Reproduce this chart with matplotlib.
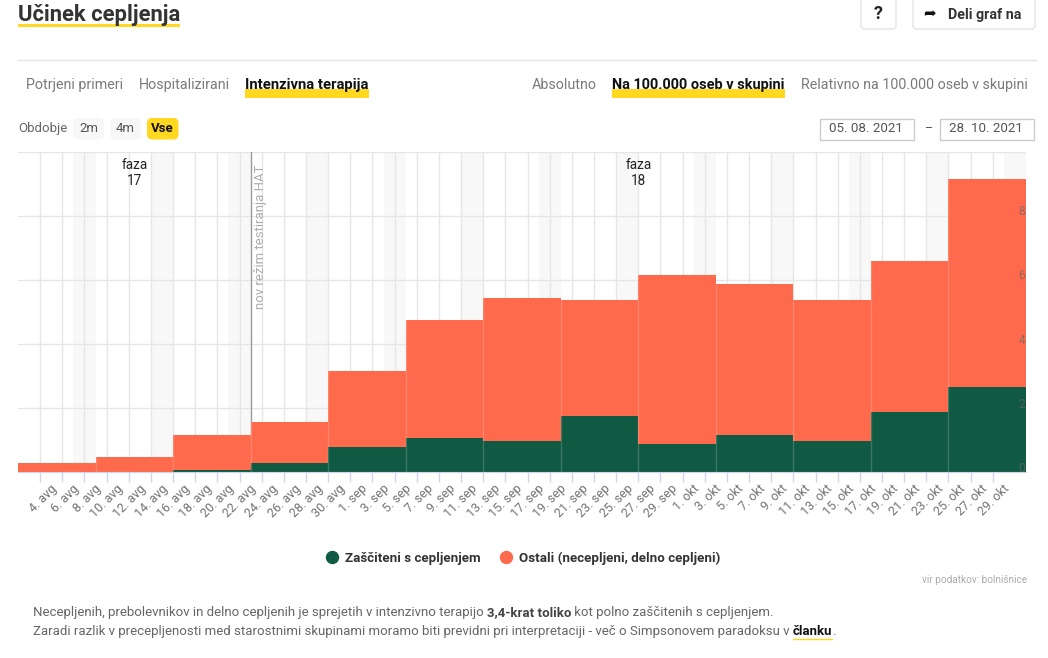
import matplotlib
matplotlib.use('Agg')
import matplotlib.pyplot as plt
import matplotlib.dates as mdates
from matplotlib.lines import Line2D
from matplotlib.patches import FancyBboxPatch, Rectangle
from matplotlib.transforms import ScaledTranslation
import pandas as pd

plt.rcParams['font.family'] = ['Roboto', 'DejaVu Sans']

week_starts = ['2021-08-02', '2021-08-09', '2021-08-16', '2021-08-23', '2021-08-30', '2021-09-06', '2021-09-13',
               '2021-09-20', '2021-09-27', '2021-10-04', '2021-10-11', '2021-10-18', '2021-10-25']
protected = [0.0, 0.0, 0.06, 0.28, 0.78, 1.07, 0.97, 1.75, 0.88, 1.16, 0.97, 1.88, 2.66]
others = [0.28, 0.47, 1.10, 1.29, 2.39, 3.69, 4.48, 3.61, 5.29, 4.70, 4.39, 4.70, 6.49]
tick_labels = ['4. avg', '6. avg', '8. avg', '10. avg', '12. avg', '14. avg', '16. avg', '18. avg', '20. avg',
               '22. avg', '24. avg', '26. avg', '28. avg', '30. avg', '1. sep', '3. sep', '5. sep', '7. sep',
               '9. sep', '11. sep', '13. sep', '15. sep', '17. sep', '19. sep', '21. sep', '23. sep', '25. sep',
               '27. sep', '29. sep', '1. okt', '3. okt', '5. okt', '7. okt', '9. okt', '11. okt', '13. okt',
               '15. okt', '17. okt', '19. okt', '21. okt', '23. okt', '25. okt', '27. okt', '29. okt']
y_ticks = [0, 2, 4, 6, 8]

GREEN = '#105a44'
ORANGE = '#fe6a4b'
YELLOW = '#ffd81f'
W, H = 1048, 658
PT = 0.72  # px to pt at dpi 100

fig = plt.figure(figsize=(W / 100, H / 100), dpi=100)

# page furniture is placed in pixel coordinates
ui = fig.add_axes([0, 0, 1, 1], zorder=0)
ui.set_xlim(0, W)
ui.set_ylim(H, 0)
ui.axis('off')


def label(x, y, s, size=14.2, color='#7a7a7a', weight='normal', ha='left', **kw):
    return ui.text(x, y, s, fontsize=size * PT, color=color, fontweight=weight, ha=ha, va='center', **kw)


def box(x0, y0, x1, y1, face='white', edge='none', radius=4, lw=1):
    ui.add_patch(FancyBboxPatch((x0 + radius, y0 + radius), x1 - x0 - 2 * radius, y1 - y0 - 2 * radius,
                                boxstyle=f'round,pad={radius},rounding_size={radius}',
                                fc=face, ec=edge, lw=lw))


def underline(x0, x1, y0, y1):
    ui.add_patch(Rectangle((x0, y0), x1 - x0, y1 - y0, fc=YELLOW, ec='none'))


# header
underline(18, 180, 23.5, 26.5)
label(18, 15.5, 'Učinek cepljenja', size=22, color='#333333', weight='bold')
box(861, -6, 896, 29, edge='#e4e4e4')
label(878, 14, '?', size=18, color='#222222', weight='bold', ha='center')
box(913, -6, 1035, 29, edge='#e4e4e4')
label(929, 14, '➦', size=15, color='#111111', ha='center', family='DejaVu Sans')
label(948, 14.5, 'Deli graf na', size=14.3, color='#333333', weight='bold')
ui.plot([18, 1036], [59.5, 59.5], color='#e3e3e3', lw=1)

# tabs
underline(244.5, 369, 88.5, 97.5)
underline(611.5, 784.5, 88.5, 97.5)
label(26, 85, 'Potrjeni primeri')
label(139, 85, 'Hospitalizirani')
label(245, 85, 'Intenzivna terapija', size=14.9, color='#111111', weight='bold')
label(532, 85, 'Absolutno')
label(612, 85, 'Na 100.000 oseb v skupini', size=14.5, color='#111111', weight='bold')
label(801, 85, 'Relativno na 100.000 oseb v skupini', size=14.3)

# period selector and dates
label(18, 128.5, 'Obdobje', size=13.3, color='#666666')
box(73, 118, 104, 139.5, face='#f7f7f7', radius=5)
box(110, 118, 141, 139.5, face='#f7f7f7', radius=5)
box(147, 118, 178.5, 139.5, face=YELLOW, radius=5)
label(88.5, 128, '2m', size=13.3, color='#555555', ha='center')
label(125.5, 128, '4m', size=13.3, color='#555555', ha='center')
label(162.5, 128, 'Vse', size=13.3, color='#111111', weight='bold', ha='center')
ui.add_patch(Rectangle((820, 118.5), 94, 21, fc='white', ec='#cccccc', lw=1))
ui.add_patch(Rectangle((939.5, 118.5), 94, 21, fc='white', ec='#cccccc', lw=1))
label(866, 128, '05. 08. 2021', size=13.4, color='#555555', ha='center')
label(985.5, 128, '28. 10. 2021', size=13.4, color='#555555', ha='center')
label(928.5, 128.5, '–', size=12.5, color='#555555', ha='center')

# chart
ax = fig.add_axes([18 / W, (H - 472) / H, 1008 / W, 320 / H], zorder=1)
ax.patch.set_alpha(0)

starts = pd.to_datetime(week_starts)
tick_dates = pd.date_range('2021-08-04', '2021-10-29', freq='2D')
x_left = mdates.date2num(starts)

for sat in pd.date_range('2021-08-07', '2021-10-30', freq='7D'):
    ax.axvspan(sat, sat + pd.Timedelta(days=2), color='#f8f8f8', lw=0, zorder=0)

ax.bar(x_left, protected, width=7, align='edge', color=GREEN, lw=0, zorder=3)
ax.bar(x_left, others, width=7, bottom=protected, align='edge', color=ORANGE, lw=0, zorder=3)
for xv, total in zip(x_left[1:], [p + o for p, o in zip(protected[1:], others[1:])]):
    ax.plot([xv, xv], [0, total], color='white', alpha=0.18, lw=1, zorder=4)

ax.set_xlim(x_left[0], x_left[-1] + 7)
ax.set_ylim(0, 10)
ax.set_xticks(tick_dates)
ax.set_xticklabels(tick_labels, rotation=45, ha='right', rotation_mode='anchor', fontsize=12.5 * PT, color='#737373')
ax.tick_params(axis='x', length=7, width=1, color='#ccd6eb', pad=3)
shift = ScaledTranslation(10 / 100, 4 / 100, fig.dpi_scale_trans)
for tl in ax.get_xticklabels():
    tl.set_transform(tl.get_transform() + shift)
ax.set_yticks([0, 2, 4, 6, 8, 10])
ax.tick_params(axis='y', length=0, labelleft=False)
ax.grid(True, color='#e6e6e6', lw=1, zorder=1)
ax.set_axisbelow(True)
for name, spine in ax.spines.items():
    spine.set_visible(name == 'bottom')
ax.spines['bottom'].set_color('#ccd6eb')
ax.spines['bottom'].set_zorder(5)

for v in y_ticks:
    ax.annotate(str(v), (1, v), xycoords=('axes fraction', 'data'), xytext=(-0.5, -1.8), textcoords='offset points',
                ha='right', va='bottom', fontsize=12 * PT, color='#666666', alpha=0.7, zorder=6)

# annotations
change_day = pd.Timestamp('2021-08-23')
ax.axvline(change_day, color='#9a9a9a', lw=1, zorder=2)
ax.annotate('nov režim testiranja HAT', (change_day, 10), xytext=(2.5, -9), textcoords='offset points',
            rotation=90, ha='left', va='top', fontsize=13.1 * PT, color='#adadad')
for day, phase in [('2021-08-12 12:00', '17'), ('2021-09-27', '18')]:
    ax.annotate(f'faza\n{phase}', (pd.Timestamp(day), 10), xytext=(0, -4), textcoords='offset points',
                ha='center', va='top', fontsize=13.5 * PT, color='#222222', linespacing=1.2)

# legend
handles = [Line2D([], [], marker='o', ls='', ms=8.6, color=GREEN, label='Zaščiteni s cepljenjem'),
           Line2D([], [], marker='o', ls='', ms=8.6, color=ORANGE, label='Ostali (necepljeni, delno cepljeni)')]
fig.legend(handles=handles, ncol=2, frameon=False, loc='center', bbox_to_anchor=(519.5 / W, (H - 558) / H),
           prop={'size': 13.4 * PT, 'weight': 'bold'}, labelcolor='#333333', handletextpad=0.0, columnspacing=0.9)

label(1027, 580, 'vir podatkov: bolnišnice', size=10, color='#ababab', ha='right')


def runs(x, y, parts):
    # text with mixed weights, each part starts where the last one ended
    renderer = fig.canvas.get_renderer()
    inv = ui.transData.inverted()
    for s, weight, color in parts:
        t = label(x, y, s, size=13.2, color=color, weight=weight)
        ext = t.get_window_extent(renderer)
        x1 = inv.transform((ext.x1, ext.y0))[0]
        if s == 'članku':
            ui.plot([x, x1], [y + 7, y + 7], color=YELLOW, lw=1)
        x = x1


grey = '#666666'
runs(33, 612.5, [('Necepljenih, prebolevnikov in delno cepljenih je sprejetih v intenzivno terapijo ', 'normal', grey),
                 ('3,4-krat toliko', 'bold', '#444444'),
                 (' kot polno zaščitenih s cepljenjem.', 'normal', grey)])
runs(33, 631.5, [('Zaradi razlik v precepljenosti med starostnimi skupinami moramo biti previdni pri interpretaciji - več o Simpsonovem paradoksu v ', 'normal', grey),
                 ('članku', 'bold', '#111111'),
                 ('.', 'normal', grey)])

fig.savefig('out.png', dpi=100)
